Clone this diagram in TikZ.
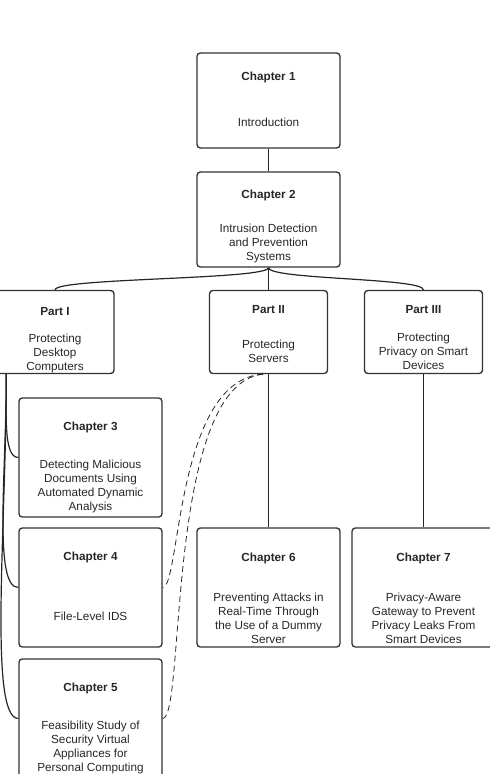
\documentclass[tikz,border=0pt]{standalone}
\usepackage{fontspec}
\setmainfont{Liberation Sans}
\usetikzlibrary{positioning}

\begin{document}
\begin{tikzpicture}[
  x=0.75pt, y=-0.75pt,
  box/.style={draw=black!80, line width=1pt, rounded corners=2.5pt,
    minimum width=107.25pt, minimum height=89.25pt, inner sep=0pt},
  partbox/.style={box, minimum width=88.5pt, minimum height=62.25pt},
  smallbox/.style={box, minimum height=71.25pt},
  txt/.style={align=center, inner sep=0pt, text=black!85,
    font=\fontsize{8.8}{10.5}\selectfont},
  link/.style={draw=black!85, line width=0.9pt},
  dlink/.style={link, line width=0.6pt, dash pattern=on 4.5pt off 3pt}
]
  \useasboundingbox (0,0) rectangle (489,774);

  %% Chapters 1 and 2
  \node[smallbox] (ch1) at (268.5,100.5) {};
  \node[txt, below=14.6pt of ch1.north] (ch1t) {\textbf{Chapter 1}\\[24pt]Introduction};

  \node[smallbox] (ch2) at (268.5,219.5) {};
  \node[txt, below=14pt of ch2.north] (ch2t)
    {\textbf{Chapter 2}\\[15pt]Intrusion Detection\\and Prevention\\Systems};
  \draw[link] (ch1) -- (ch2);

  %% Parts
  \node[partbox] (p1) at (55,332) {};
  \node[txt, below=12.8pt of p1.north] (p1t)
    {\textbf{Part I}\\[10pt]Protecting\\Desktop\\Computers};

  \node[partbox] (p2) at (268.5,332) {};
  \node[txt, below=11.8pt of p2.north] (p2t)
    {\textbf{Part II}\\[15.5pt]Protecting\\Servers};

  \node[partbox] (p3) at (423.5,332) {};
  \node[txt, below=11.8pt of p3.north] (p3t)
    {\textbf{Part III}\\[10.5pt]Protecting\\Privacy on Smart\\Devices};

  \draw[link] (ch2.south) .. controls +(0,12) and +(0,-12) .. (p1.north);
  \draw[link] (ch2.south) -- (p2.north);
  \draw[link] (ch2.south) .. controls +(0,12) and +(0,-12) .. (p3.north);

  %% Part I chapters
  \node[box] (ch3) at (90.5,457.5) {};
  \node[txt, below=18.6pt of ch3.north] (ch3t)
    {\textbf{Chapter 3}\\[18pt]Detecting Malicious\\Documents Using\\Automated Dynamic\\Analysis};

  \node[box] (ch4) at (90.5,587.5) {};
  \node[txt, below=18.6pt of ch4.north] (ch4t)
    {\textbf{Chapter 4}\\[34.5pt]File-Level IDS};

  \node[box] (ch5) at (90.5,718.5) {};
  \node[txt, below=18.6pt of ch5.north] (ch5t)
    {\textbf{Chapter 5}\\[18pt]Feasibility Study of\\Security Virtual\\Appliances for\\Personal Computing};

  \coordinate (p1out) at ([xshift=8.25pt]p1.south west);
  \draw[link] (p1out) .. controls +(0,40) and +(-15,0) .. (ch3.west);
  \draw[link] (p1out) .. controls +(0,100) and +(-25,0) .. (ch4.west);
  \draw[link] (p1out) .. controls +(0,150) and +(-30,0) .. (ch5.west);

  %% Part II and III chapters
  \node[box] (ch6) at (268.5,587.5) {};
  \node[txt, below=19.3pt of ch6.north] (ch6t)
    {\textbf{Chapter 6}\\[19pt]Preventing Attacks in\\Real-Time Through\\the Use of a Dummy\\Server};
  \draw[link] (p2) -- (ch6);

  \node[box] (ch7) at (423.5,587.5) {};
  \node[txt, below=19.3pt of ch7.north] (ch7t)
    {\textbf{Chapter 7}\\[19pt]Privacy-Aware\\Gateway to Prevent\\Privacy Leaks From\\Smart Devices};
  \draw[link] (p3) -- (ch7);

  %% dashed links from Part II
  \coordinate (p2out) at ([xshift=-4pt]p2.south);
  \draw[dlink] (p2out) .. controls +(-88,5) and +(18,0) .. (ch4.east);
  \draw[dlink] (p2out) .. controls +(-98,10) and +(23,0) .. (ch5.east);
\end{tikzpicture}
\end{document}
